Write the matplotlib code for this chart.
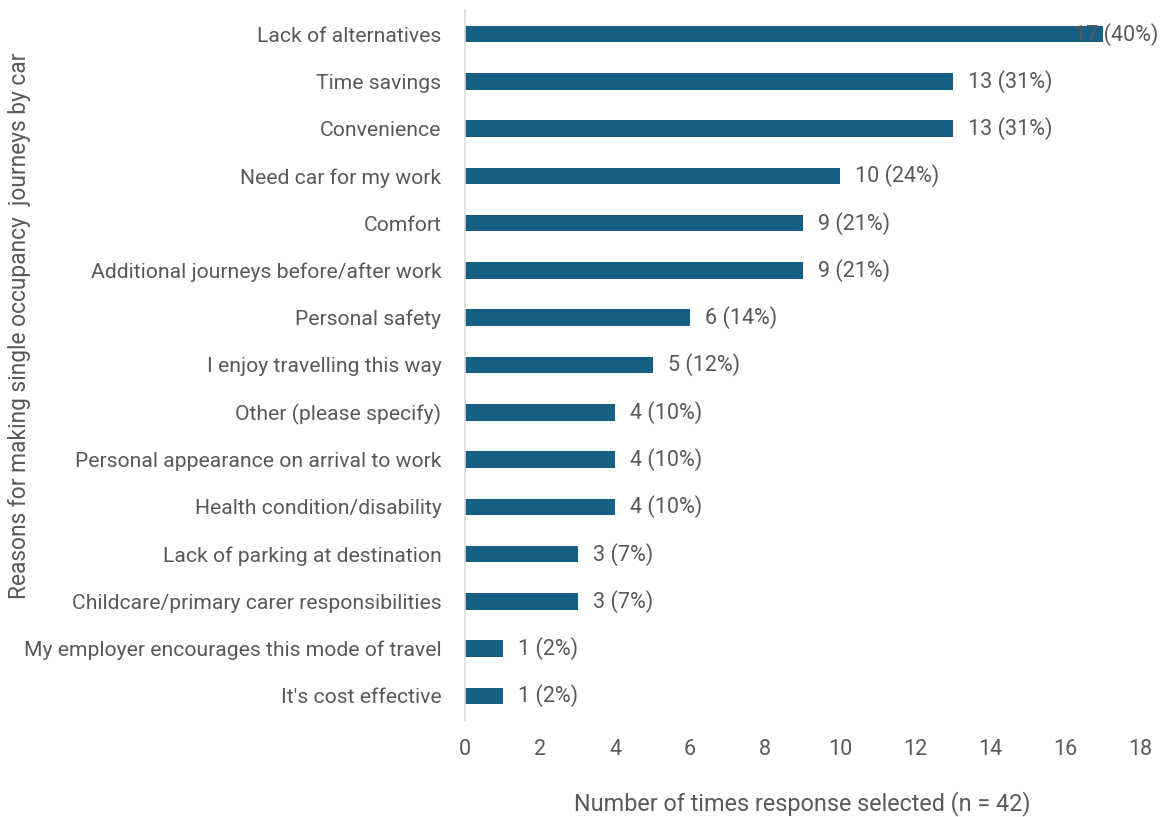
import matplotlib
matplotlib.use("Agg")
import matplotlib.pyplot as plt

categories = [
    "Lack of alternatives",
    "Time savings",
    "Convenience",
    "Need car for my work",
    "Comfort",
    "Additional journeys before/after work",
    "Personal safety",
    "I enjoy travelling this way",
    "Other (please specify)",
    "Personal appearance on arrival to work",
    "Health condition/disability",
    "Lack of parking at destination",
    "Childcare/primary carer responsibilities",
    "My employer encourages this mode of travel",
    "It's cost effective",
]
counts = [17, 13, 13, 10, 9, 9, 6, 5, 4, 4, 4, 3, 3, 1, 1]
percents = [40, 31, 31, 24, 21, 21, 14, 12, 10, 10, 10, 7, 7, 2, 2]
xticks = [0, 2, 4, 6, 8, 10, 12, 14, 16, 18]

plt.rcParams['font.family'] = ['Roboto', 'DejaVu Sans']
TXT = '#595959'
BAR = '#156082'

fig = plt.figure(figsize=(11.72, 8.17), dpi=100)
ax = fig.add_axes([465/1172, 1-719.6/817, (1140-465)/1172, (719.6-10.4)/817])

y = list(range(len(categories)))
ax.barh(y, counts, height=0.35, color=BAR)
ax.set_ylim(len(categories) - 0.5, -0.5)
ax.set_xlim(0, 18)
ax.set_yticks(y)
ax.set_yticklabels(categories, fontsize=15.2, color=TXT)
ax.set_xticks(xticks)
ax.set_xticklabels([str(t) for t in xticks], fontsize=15.5, color=TXT)
ax.tick_params(axis='y', length=0, pad=17)
ax.tick_params(axis='x', length=0, pad=14)
for s in ['top', 'right', 'bottom']:
    ax.spines[s].set_visible(False)
ax.spines['left'].set_color('#d9d9d9')
ax.spines['left'].set_linewidth(1.2)

for i, (c, p) in enumerate(zip(counts, percents)):
    label = f"{c} ({p}%)"
    if c >= max(counts):
        ax.annotate(label, xy=(18, i), xytext=(13, 0), textcoords='offset points',
                    ha='right', va='center', fontsize=15.5, color=TXT, annotation_clip=False)
    else:
        ax.annotate(label, xy=(c, i), xytext=(11, 0), textcoords='offset points',
                    ha='left', va='center', fontsize=15.5, color=TXT)

ax.set_xlabel("Number of times response selected (n = 42)", fontsize=16.8, color=TXT, labelpad=22)
fig.text(20/1172, 1-326/817, "Reasons for making single occupancy  journeys by car",
         rotation=90, ha='center', va='center', fontsize=16.4, color=TXT)

fig.savefig("out.png", dpi=100)
